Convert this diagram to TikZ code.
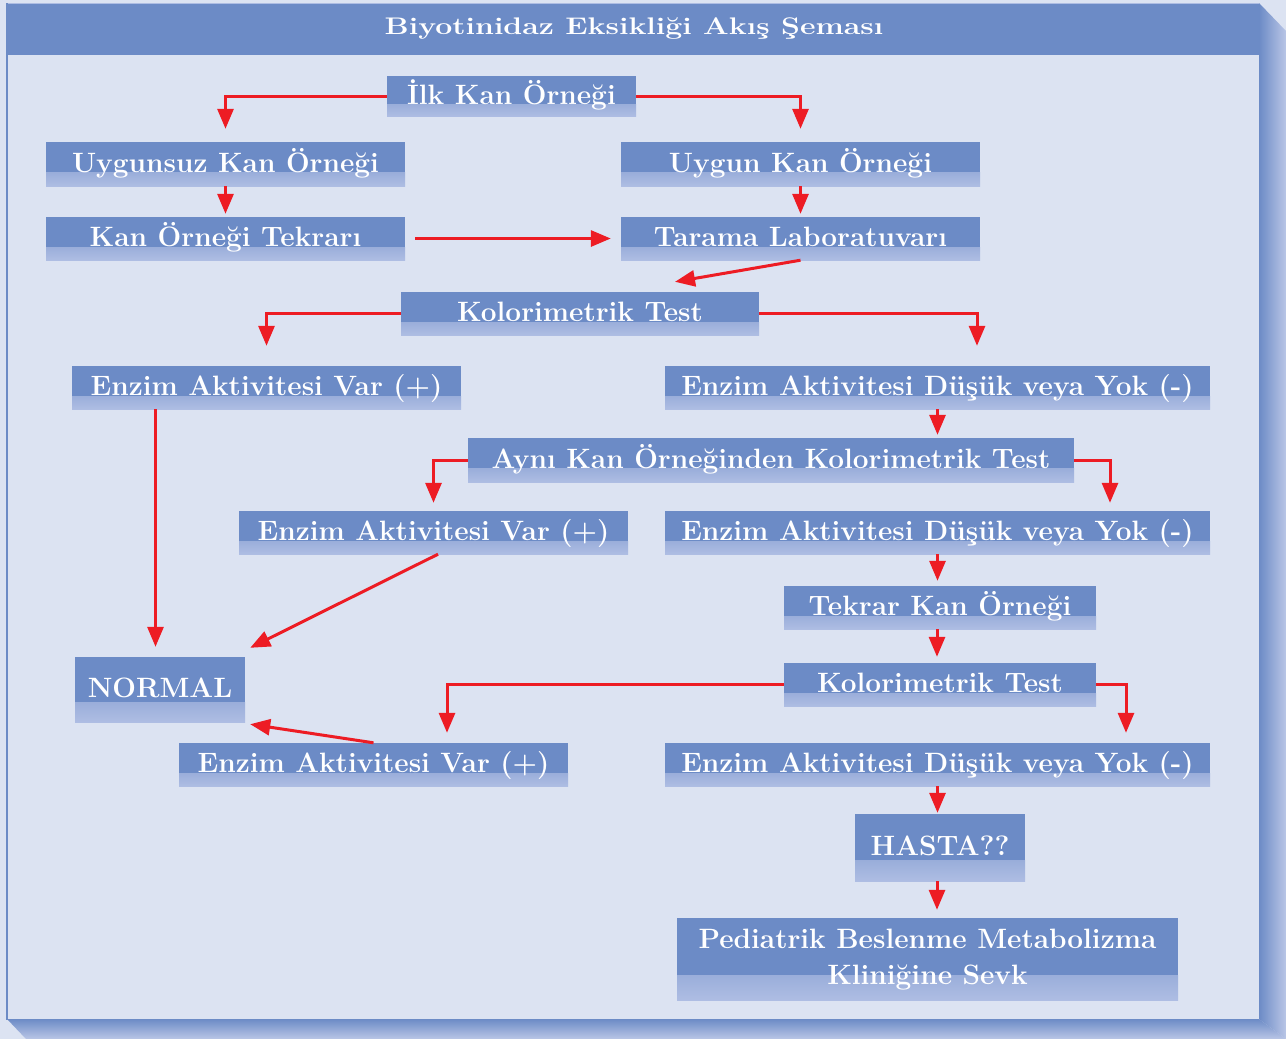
\documentclass[tikz,border=0pt]{standalone}
\usepackage{fontspec}
\usepackage{graphicx}
\usetikzlibrary{arrows.meta,calc}
\definecolor{bg}{HTML}{DCE3F2}
\definecolor{boxblue}{HTML}{6C8BC6}
\definecolor{boxlight}{HTML}{AEBDE3}
\definecolor{arrred}{HTML}{ED1C24}
\definecolor{shlight}{HTML}{BAC6E6}
\begin{document}
\begin{tikzpicture}[x=1pt,y=-1pt,
  basebox/.style={fill=boxblue, inner sep=0pt, text=white,
    font=\bfseries\fontsize{28}{37}\selectfont, align=center,
    path picture={\shade[top color=boxblue,bottom color=boxlight]
      (path picture bounding box.south west) rectangle
      ($(path picture bounding box.south east)!0.3!(path picture bounding box.north east)$);}},
  fbox/.style={basebox, text height=19.5pt, text depth=3.5pt},
  arr/.style={draw=arrred, line width=3pt, line join=miter,
    -{Triangle[width=16pt,length=20pt]}}
]
% background and frame
\fill[bg] (0,0) rectangle (1286,1039);
\shade[left color=boxblue, right color=shlight] (1259,3) -- (1286,31) -- (1286,1039) -- (1259,1019) -- cycle;
\shade[top color=boxblue, bottom color=shlight] (7,1019) -- (1259,1019) -- (1286,1039) -- (26,1039) -- cycle;
\fill[bg] (7,3) rectangle (1259,1019);
\fill[boxblue] (7,3) rectangle (1259,55);
\draw[boxlight, line width=1pt] (7,3.5) -- (1259,3.5);
\draw[boxblue, line width=2pt] (7,3) -- (7,1020);
\node[text=white, inner sep=0pt, text height=16.5pt, text depth=0pt,
  font=\bfseries\fontsize{24}{28}\selectfont] (title) at (634,26.5) {\scalebox{1.26}[1]{Biyotinidaz Eksikliği Akış Şeması}};

% nodes
\node[fbox, minimum width=249pt, minimum height=41pt] (ilk) at (511.5,96) {İlk Kan Örneği};
\node[fbox, minimum width=359pt, minimum height=44pt] (uns) at (225.5,164) {Uygunsuz Kan Örneği};
\node[fbox, minimum width=359pt, minimum height=44pt] (uyg) at (800.5,164) {Uygun Kan Örneği};
\node[fbox, minimum width=359pt, minimum height=43pt] (kot) at (225.5,238.5) {Kan Örneği Tekrarı};
\node[fbox, minimum width=359pt, minimum height=43pt] (tar) at (800.5,238.5) {Tarama Laboratuvarı};
\node[fbox, minimum width=358pt, minimum height=43pt] (kol) at (580,313.5) {Kolorimetrik Test};
\node[fbox, minimum width=389pt, minimum height=43pt] (eav1) at (266.5,387.5) {Enzim Aktivitesi Var (+)};
\node[fbox, minimum width=545pt, minimum height=43pt] (ead1) at (937.5,387.5) {Enzim Aktivitesi Düşük veya Yok (-)};
\node[fbox, minimum width=606pt, minimum height=44pt] (ayn) at (771,460) {Aynı Kan Örneğinden Kolorimetrik Test};
\node[fbox, minimum width=389pt, minimum height=43pt] (eav2) at (433.5,532.5) {Enzim Aktivitesi Var (+)};
\node[fbox, minimum width=545pt, minimum height=43pt] (ead2) at (937.5,532.5) {Enzim Aktivitesi Düşük veya Yok (-)};
\node[fbox, minimum width=312pt, minimum height=43pt] (tek) at (940,607.5) {Tekrar Kan Örneği};
\node[fbox, minimum width=170pt, minimum height=65pt] (nor) at (160,689.5) {NORMAL};
\node[fbox, minimum width=312pt, minimum height=43pt] (kol2) at (940,684.5) {Kolorimetrik Test};
\node[fbox, minimum width=389pt, minimum height=43pt] (eav3) at (373.5,764.5) {Enzim Aktivitesi Var (+)};
\node[fbox, minimum width=545pt, minimum height=43pt] (ead3) at (937.5,764.5) {Enzim Aktivitesi Düşük veya Yok (-)};
\node[fbox, minimum width=170pt, minimum height=67pt] (has) at (940,847.5) {HASTA??};
\node[basebox, minimum width=501pt, minimum height=82pt] (ped) at (927.5,959) {\raisebox{-3pt}{\begin{tabular}{@{}c@{}}Pediatrik Beslenme Metabolizma\\[-1pt]Kliniğine Sevk\end{tabular}}};

% connectors
\draw[arr, shorten >=13pt] (ilk.west) -| (uns.north);
\draw[arr, shorten >=13pt] (ilk.east) -| (uyg.north);
\draw[arr, shorten >=3pt] (uns.south) -- (kot.north);
\draw[arr, shorten >=3pt] (uyg.south) -- (tar.north);
\draw[arr, shorten <=10pt, shorten >=10pt] (kot.east) -- (tar.west);
\draw[arr] (tar.south) -- ([xshift=95pt,yshift=10pt]kol.north);
\draw[arr, shorten >=20pt] (kol.west) -| (eav1.north);
\draw[arr] (kol.east) -| ([xshift=39.5pt,yshift=20pt]ead1.north);
\draw[arr, shorten >=3pt] (ead1.south) -- (ead1.south |- ayn.north);
\draw[arr, shorten >=8pt] (ayn.west) -| (eav2.north);
\draw[arr] (ayn.east) -| ([xshift=172.5pt,yshift=8pt]ead2.north);
\draw[arr, shorten >=10pt] ([xshift=-111pt]eav1.south) -- ([xshift=-111pt]eav1.south |- nor.north);
\draw[arr] ([xshift=4.5pt]eav2.south) -- ([xshift=5pt,yshift=9pt]nor.north east);
\draw[arr, shorten >=5pt] (ead2.south) -- (ead2.south |- tek.north);
\draw[arr, shorten >=6pt] ([xshift=-3pt]tek.south) -- ([xshift=-3pt]kol2.north);
\draw[arr] (kol2.west) -| ([xshift=73.5pt,yshift=10pt]eav3.north);
\draw[arr] (kol2.east) -| ([xshift=188.5pt,yshift=10pt]ead3.north);
\draw[arr] (eav3.north) -- ([xshift=5pt,yshift=-2pt]nor.south east);
\draw[arr, shorten >=1pt] (ead3.south) -- (ead3.south |- has.north);
\draw[arr, shorten >=8pt] ([xshift=-3pt]has.south) -- ([xshift=-3pt]has.south |- ped.north);
\end{tikzpicture}
\end{document}
